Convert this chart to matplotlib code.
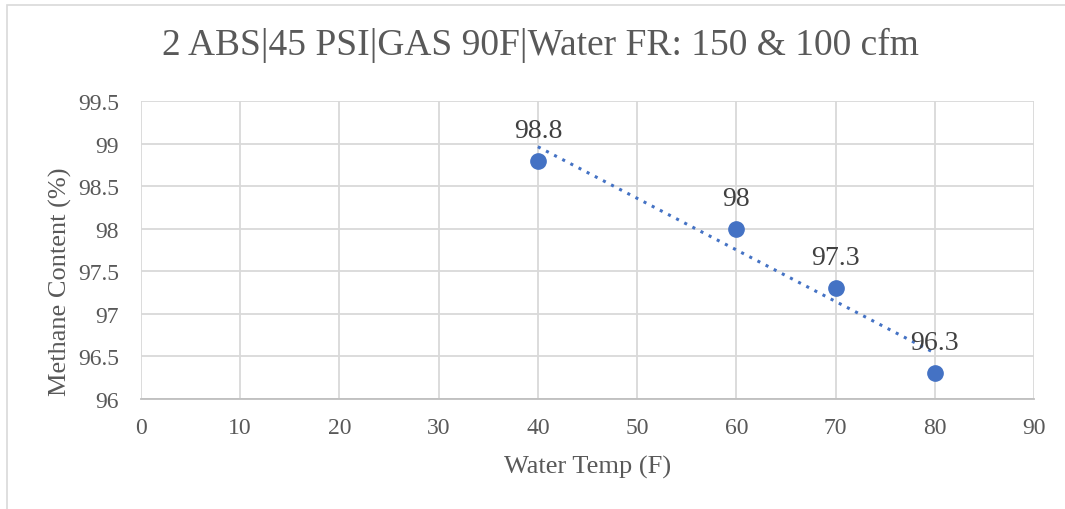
import numpy as np
import matplotlib
matplotlib.use('Agg')
import matplotlib.pyplot as plt
from matplotlib.patches import Rectangle

# data
water_temp = [40, 60, 70, 80]
methane = [98.8, 98.0, 97.3, 96.3]
x_ticks = [0, 10, 20, 30, 40, 50, 60, 70, 80, 90]
y_ticks = [96, 96.5, 97, 97.5, 98, 98.5, 99, 99.5]
title = '2 ABS|45 PSI|GAS 90F|Water FR: 150 & 100 cfm'

plt.rcParams['font.family'] = ['Liberation Serif', 'DejaVu Serif']
txt = '#595959'
blue = '#4472C4'

fig = plt.figure(figsize=(10.65, 5.1), dpi=100)
fig.patches.append(Rectangle((7/1065, -0.1), 1.2, 1 - 6/510 + 0.1, transform=fig.transFigure,
                             fill=False, edgecolor='#D9D9D9', linewidth=1.2))
ax = fig.add_axes([141/1065, 1 - 400/510, (1034 - 141)/1065, (400 - 102)/510])

ax.plot(water_temp, methane, 'o', color=blue, markersize=11, zorder=3)

# linear trendline
k, b = np.polyfit(water_temp, methane, 1)
tx = np.array([min(water_temp), max(water_temp)])
ax.plot(tx, k * tx + b, color=blue, linestyle=(0, (1, 2)), linewidth=2.2, zorder=2)

for xv, yv in zip(water_temp, methane):
    ax.annotate('%g' % yv, (xv, yv), xytext=(0, 13), textcoords='offset points',
                ha='center', va='bottom', fontsize=20, color='#404040', zorder=4)

ax.set_xlim(0, 90)
ax.set_ylim(96, 99.5)
ax.set_xticks(x_ticks)
ax.set_yticks(y_ticks)
ax.set_yticklabels(['%g' % v for v in y_ticks])
ax.grid(True, color='#D9D9D9', linewidth=1.3)
ax.set_axisbelow(True)
for s in ax.spines.values():
    s.set_visible(False)
ax.spines['bottom'].set_visible(True)
ax.spines['bottom'].set_color('#BFBFBF')
ax.spines['bottom'].set_linewidth(1.3)
ax.tick_params(length=0, labelsize=17, colors=txt)
ax.tick_params(axis='x', pad=13)
ax.tick_params(axis='y', pad=16)

ax.set_xlabel('Water Temp (F)', fontsize=19, color=txt)
ax.set_ylabel('Methane Content (%)', fontsize=19, color=txt)
ax.xaxis.set_label_coords((588 - 141) / 893, (400 - 467) / 298)
ax.yaxis.set_label_coords((60 - 141) / 893, (400 - 282) / 298)
ax.xaxis.label.set_va('center')
ax.yaxis.label.set_va('center')
fig.text(540/1065, 1 - 45/510, title, ha='center', va='center', fontsize=27, color=txt)

fig.savefig('out.png', dpi=100)
